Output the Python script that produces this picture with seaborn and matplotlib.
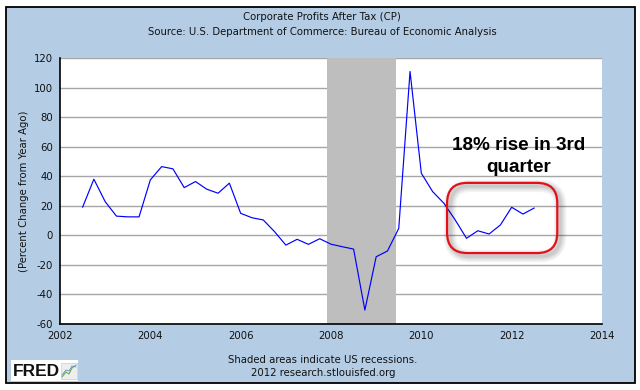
import matplotlib
matplotlib.use("Agg")
import matplotlib.pyplot as plt
import matplotlib.transforms as mtransforms
from matplotlib.patches import FancyBboxPatch, Rectangle
from matplotlib.lines import Line2D
import seaborn as sns
import pandas as pd

# ---------------- data ----------------
quarters = ["2002Q3", "2002Q4",
            "2003Q1", "2003Q2", "2003Q3", "2003Q4",
            "2004Q1", "2004Q2", "2004Q3", "2004Q4",
            "2005Q1", "2005Q2", "2005Q3", "2005Q4",
            "2006Q1", "2006Q2", "2006Q3", "2006Q4",
            "2007Q1", "2007Q2", "2007Q3", "2007Q4",
            "2008Q1", "2008Q2", "2008Q3", "2008Q4",
            "2009Q1", "2009Q2", "2009Q3", "2009Q4",
            "2010Q1", "2010Q2", "2010Q3", "2010Q4",
            "2011Q1", "2011Q2", "2011Q3", "2011Q4",
            "2012Q1", "2012Q2", "2012Q3"]
values = [19.0, 38.0,
          22.8, 13.0, 12.5, 12.5,
          37.5, 46.5, 45.0, 32.3,
          36.4, 31.2, 28.5, 35.3,
          14.9, 11.9, 10.4, 2.5,
          -6.6, -2.7, -6.1, -2.3,
          -6.0, -7.7, -9.3, -50.6,
          -14.5, -10.6, 4.7, 110.9,
          42.0, 29.6, 21.7, 10.4,
          -2.0, 3.1, 0.9, 7.0,
          19.0, 14.4, 18.5]
recession_start, recession_end = 2007.92, 2009.44
xticks = [2002, 2004, 2006, 2008, 2010, 2012, 2014]
yticks = [-60, -40, -20, 0, 20, 40, 60, 80, 100, 120]
title_lines = ["Corporate Profits After Tax (CP)",
               "Source: U.S. Department of Commerce: Bureau of Economic Analysis"]
ylabel = "(Percent Change from Year Ago)"
footer_lines = ["Shaded areas indicate US recessions.",
                "2012 research.stlouisfed.org"]
annotation = "18% rise in 3rd\nquarter"
# annotation region (data units)
box_x0, box_x1 = 2010.57, 2013.01
box_y0, box_y1 = -12.0, 35.5
text_x, text_y = 2012.15, 53.5

# ---------------- style ----------------
sns.set_theme(style="white")
plt.rcParams["font.family"] = ["DejaVu Sans"]
BG = "#B4CDE5"
GRID = "#A6A6A6"
SHADE = "#BEBEBE"

pq = pd.PeriodIndex(quarters, freq="Q")
df = pd.DataFrame({"x": pq.year + (pq.quarter - 1) / 4.0, "value": values})

fig = plt.figure(figsize=(6.4, 3.9), dpi=100, facecolor="white")
W, H = 640.0, 390.0
fig.patches.append(Rectangle((6 / W, 1 - 383 / H), 629 / W, 376 / H,
                             transform=fig.transFigure, facecolor=BG,
                             edgecolor="black", lw=1.3, zorder=-10))

ax = fig.add_axes([60 / W, 1 - 324 / H, 542 / W, 266 / H])
ax.set_facecolor("white")

# horizontal grid lines (under the recession shading)
for yt in yticks:
    ax.axhline(yt, color=GRID, lw=1.0, zorder=0.3)

ax.axvspan(recession_start, recession_end, color=SHADE, lw=0, zorder=0.6)

sns.lineplot(data=df, x="x", y="value", ax=ax, color="#0000FF",
             lw=0.85, zorder=3, legend=False)

ax.set_xlim(xticks[0], xticks[-1])
ax.set_ylim(yticks[0], yticks[-1])
ax.set_xticks(xticks)
ax.set_yticks(yticks)
ax.set_xticklabels([str(t) for t in xticks], fontsize=7.3)
ax.set_yticklabels([str(t) for t in yticks], fontsize=7.3)
ax.tick_params(direction="in", length=4, width=1, color="black",
               pad=5, labelcolor="#111111")
ax.set_xlabel("")
ax.set_ylabel(ylabel, fontsize=7.3, color="#111111")
ax.yaxis.set_label_coords(-0.058, 0.5)
for s in ["top", "right"]:
    ax.spines[s].set_visible(False)
for s in ["left", "bottom"]:
    ax.spines[s].set_color("black")
    ax.spines[s].set_linewidth(1.2)
    ax.spines[s].set_zorder(4)

# annotation: rounded red box with soft shadow
aspect = 45.0 / 1.475
rstyle = "round,pad=0,rounding_size=0.45"
tr = mtransforms.offset_copy(ax.transData, fig=fig, x=3, y=-3, units="dots")
for w in [9, 7, 5, 3.5, 2]:
    sh = FancyBboxPatch((box_x0, box_y0), box_x1 - box_x0, box_y1 - box_y0,
                        boxstyle=rstyle, mutation_aspect=aspect, fc="none",
                        ec="black", alpha=0.045, lw=w, transform=tr, zorder=4)
    ax.add_patch(sh)
box = FancyBboxPatch((box_x0, box_y0), box_x1 - box_x0, box_y1 - box_y0,
                     boxstyle=rstyle, mutation_aspect=aspect, fc="none",
                     ec="#E3101A", lw=1.6, zorder=5)
ax.add_patch(box)
ax.text(text_x, text_y, annotation, ha="center", va="center",
        fontsize=13.6, fontweight="bold", family="Liberation Sans",
        color="black", linespacing=1.42, zorder=6)

# titles and footer
fig.text(322 / W, 1 - 17 / H, title_lines[0], ha="center", va="center",
         fontsize=7.3, color="#111111")
fig.text(322 / W, 1 - 32 / H, title_lines[1], ha="center", va="center",
         fontsize=7.3, color="#111111")
fig.text(323 / W, 1 - 360 / H, footer_lines[0], ha="center", va="center",
         fontsize=7.3, color="#111111")
fig.text(323 / W, 1 - 373 / H, footer_lines[1], ha="center", va="center",
         fontsize=7.3, color="#111111")

# FRED logo
fig.patches.append(Rectangle((11 / W, 1 - 381 / H), 67 / W, 21 / H,
                             transform=fig.transFigure, facecolor="white",
                             edgecolor="none", zorder=-5))
fig.text(13 / W, 1 - 371 / H, "FRED", ha="left", va="center", fontsize=12.5,
         fontweight="bold", family="Liberation Sans", color="#111111")
fig.patches.append(Rectangle((61 / W, 1 - 379 / H), 16 / W, 16 / H,
                             transform=fig.transFigure, facecolor="#EEEEEE",
                             edgecolor="#CCCCCC", lw=0.5, zorder=-4))
fig.lines.append(Line2D([62 / W, 66 / W, 69 / W, 72 / W, 76 / W],
                        [1 - 377 / H, 1 - 372 / H, 1 - 374 / H, 1 - 368 / H, 1 - 365 / H],
                        transform=fig.transFigure, color="#6FAE3F", lw=0.8))
fig.lines.append(Line2D([62 / W, 66 / W, 69 / W, 72 / W, 76 / W],
                        [1 - 375 / H, 1 - 370 / H, 1 - 371 / H, 1 - 366 / H, 1 - 367 / H],
                        transform=fig.transFigure, color="#5C8BC7", lw=0.6))

fig.savefig("out.png", dpi=100, facecolor="white")
